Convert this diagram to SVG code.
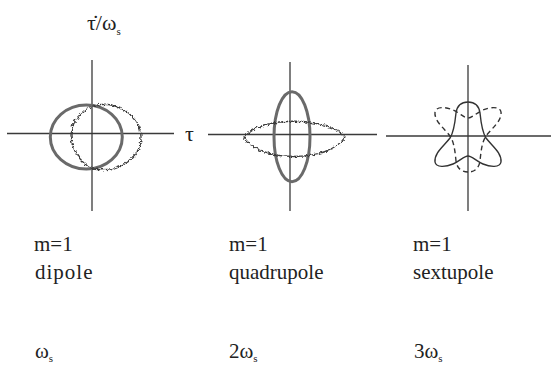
<svg xmlns="http://www.w3.org/2000/svg" width="551" height="376" viewBox="0 0 551 376">
<style>
.ax{stroke:#3a3a3a;stroke-width:1.3;fill:none}
.sol{stroke:#6a6a6a;stroke-width:3;fill:none}
.wig{stroke:#3a3a3a;stroke-width:1.3;fill:none}
.tre{stroke:#333;stroke-width:1.4;fill:none}
.dash{stroke-dasharray:5 3.5}
.sub{font-size:11px}
</style>
<defs>
<filter id="wiggle" x="-20%" y="-20%" width="140%" height="140%">
<feTurbulence type="turbulence" baseFrequency="0.22" numOctaves="1" seed="5" result="n"/>
<feDisplacementMap in="SourceGraphic" in2="n" scale="3.5" xChannelSelector="R" yChannelSelector="G"/>
</filter>
<path id="tref" d="M0,-35 C7,-35 11,-31 12,-24 C13,-14 14,-5 18,1 C24,9 34,16 33,25 C32,31 22,30 15,27 C8,24 4,19 0,19 C-4,19 -8,24 -15,27 C-22,30 -32,31 -33,25 C-34,16 -24,9 -18,1 C-14,-5 -13,-14 -12,-24 C-11,-31 -7,-35 0,-35 Z"/>
</defs>
<g id="connectors">
<line class="ax" x1="7" y1="133.5" x2="174" y2="133.5"/>
<line class="ax" x1="92" y1="60" x2="92" y2="211"/>
<line class="ax" x1="208" y1="134.5" x2="377" y2="134.5"/>
<line class="ax" x1="290" y1="62" x2="290" y2="211"/>
<line class="ax" x1="386" y1="136" x2="551" y2="136"/>
<line class="ax" x1="468" y1="65" x2="468" y2="211"/>
</g>
<g id="axis-labels" font-family="'Liberation Serif', 'Times New Roman', serif" fill="#222" font-size="22">
<text x="87" y="30">τ̇/ω<tspan class="sub" dy="5">s</tspan></text>
<text x="185" y="141">τ</text>
</g>
<g id="dipole">
<ellipse class="sol" cx="86.3" cy="137" rx="36" ry="32"/>
<path class="wig" filter="url(#wiggle)" d="M92,105 C115,98 140,115 140,136 C140,158 115,172 92,168 C80,163 70,148 70,134 C70,122 80,109 92,105 Z"/>
<g font-family="'Liberation Serif', 'Times New Roman', serif" fill="#222" font-size="21">
<text x="34" y="251">m=1</text>
<text x="35" y="279" letter-spacing="1">dipole</text>
<text x="35" y="358">ω<tspan class="sub" dy="4">s</tspan></text>
</g>
</g>
<g id="quadrupole">
<ellipse class="sol" cx="292" cy="136.7" rx="18" ry="45"/>
<path class="wig" filter="url(#wiggle)" d="M243,136 C258,115 328,115 344,136 C328,162 258,162 243,136 Z"/>
<g font-family="'Liberation Serif', 'Times New Roman', serif" fill="#222" font-size="21">
<text x="229" y="251">m=1</text>
<text x="229" y="279">quadrupole</text>
<text x="229" y="358">2ω<tspan class="sub" dy="4">s</tspan></text>
</g>
</g>
<g id="sextupole">
<use href="#tref" class="tre" transform="translate(468,137)"/>
<use href="#tref" class="tre dash" transform="translate(468,137) rotate(180)"/>
<g font-family="'Liberation Serif', 'Times New Roman', serif" fill="#222" font-size="21">
<text x="413" y="251">m=1</text>
<text x="413" y="279">sextupole</text>
<text x="414" y="358">3ω<tspan class="sub" dy="4">s</tspan></text>
</g>
</g>
</svg>
